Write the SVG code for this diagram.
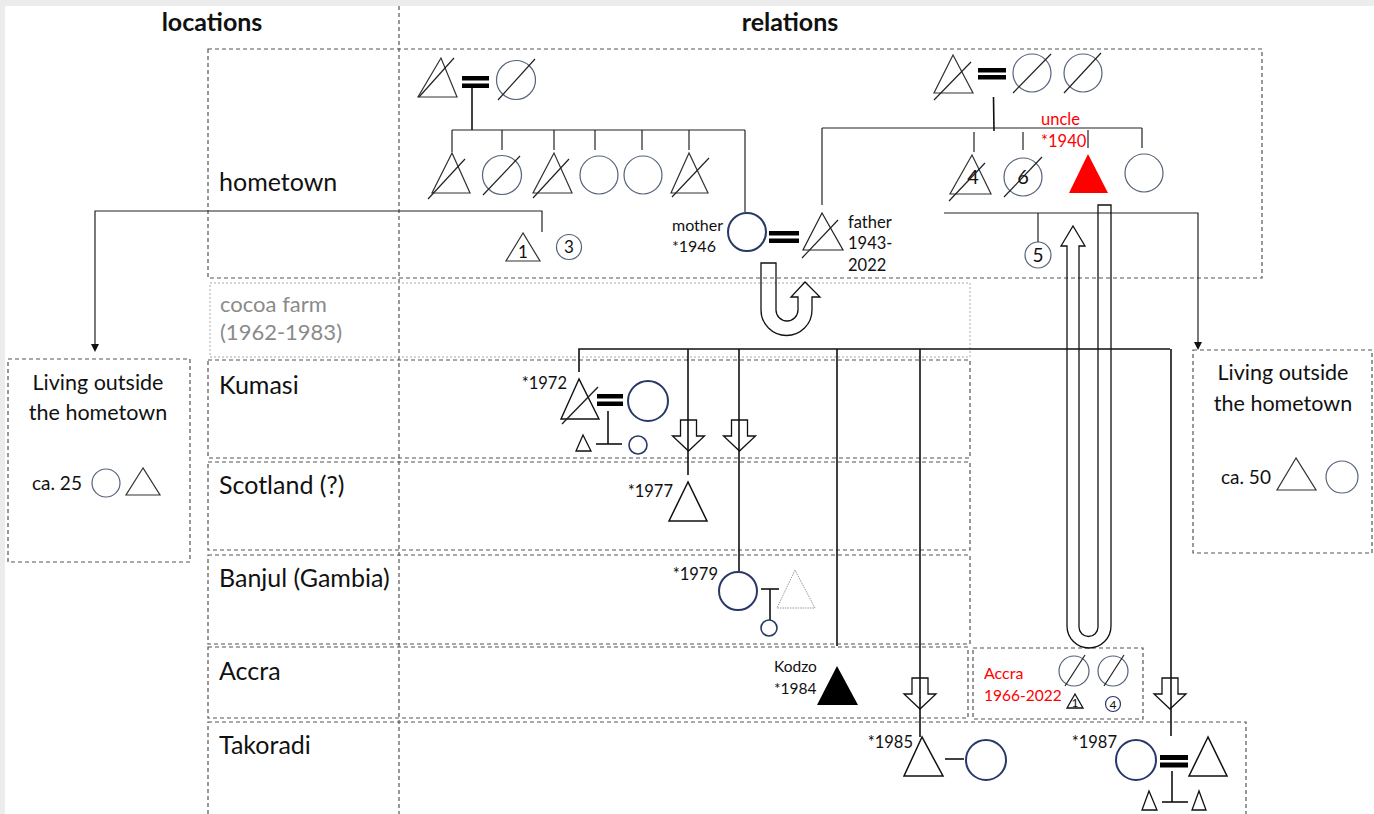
<svg xmlns="http://www.w3.org/2000/svg" width="1374" height="814" viewBox="0 0 1374 814">
<style>
.box{fill:none;stroke:#555;stroke-width:1.2;stroke-dasharray:4 3}
.boxl{fill:none;stroke:#aaa;stroke-width:1;stroke-dasharray:2 2}
.t{font-family:Lato,"Open Sans","Liberation Sans",sans-serif;fill:#111}
.lbl{font-size:25px}
.hd{font-size:25px;font-weight:bold}
.sm{font-size:16px}
.xs{font-size:16.5px}
.red{fill:#ff0000}
.ln{stroke:#222;stroke-width:1.2;fill:none}
.lnb{stroke:#111;stroke-width:1.6;fill:none}
.tri{fill:none;stroke:#333;stroke-width:1.2}
.trib{fill:none;stroke:#111;stroke-width:1.6}
.cir{fill:none;stroke:#56627a;stroke-width:1.2}
.cirN{fill:none;stroke:#2a3868;stroke-width:2}
.sl{stroke:#222;stroke-width:1.2}
.eq{fill:#000}
.blk{fill:none;stroke:#111;stroke-width:1.3}
</style>
<defs>
<path id="darr" d="M-8,0 L8,0 L8,16 L16,16 L0,31 L-16,16 L-8,16 Z"/>
</defs>
<rect x="0" y="0" width="1374" height="814" fill="#fff"/>
<rect x="0" y="0" width="1374" height="6" fill="#ececec"/>
<rect x="0" y="0" width="5" height="814" fill="#ececec"/>

<g id="frame">
<line x1="399" y1="6" x2="399" y2="814" class="box"/>
<text x="212" y="31" class="t hd" text-anchor="middle">locations</text>
<text x="790" y="31" class="t hd" text-anchor="middle">relations</text>
</g>

<g id="row-hometown">
<rect x="208" y="49" width="1054" height="229" class="box"/>
<text x="219" y="191" class="t lbl">hometown</text>
</g>
<g id="row-cocoa">
<rect x="210" y="283" width="760" height="74" class="boxl"/>
<text x="220" y="312" class="t" font-size="22" style="fill:#8a8a8a">cocoa farm</text>
<text x="220" y="340" class="t" font-size="22" style="fill:#8a8a8a">(1962-1983)</text>
</g>
<g id="row-kumasi">
<rect x="208" y="360" width="762" height="98" class="box"/>
<text x="219" y="394" class="t lbl">Kumasi</text>
</g>
<g id="row-scotland">
<rect x="208" y="462" width="762" height="88" class="box"/>
<text x="219" y="494" class="t lbl">Scotland (?)</text>
</g>
<g id="row-banjul">
<rect x="208" y="555" width="762" height="89" class="box"/>
<text x="219" y="587" class="t lbl">Banjul (Gambia)</text>
</g>
<g id="row-accra">
<rect x="208" y="647" width="760" height="71" class="box"/>
<text x="219" y="680" class="t lbl">Accra</text>
</g>
<g id="row-takoradi">
<rect x="208" y="722" width="1038" height="100" class="box"/>
<text x="219" y="754" class="t lbl">Takoradi</text>
</g>

<g id="outside-left">
<rect x="8" y="359" width="182" height="203" class="box"/>
<text x="98" y="390" class="t" font-size="21.5" text-anchor="middle">Living outside</text>
<text x="98" y="420" class="t" font-size="21.5" text-anchor="middle">the hometown</text>
<text x="32" y="490" class="t" font-size="19">ca. 25</text>
<circle cx="106" cy="483" r="14" class="cir"/>
<polygon points="143,468 126,495 160,495" class="tri"/>
</g>
<g id="outside-right">
<rect x="1193" y="350" width="179" height="203" class="box"/>
<text x="1283" y="380" class="t" font-size="21.5" text-anchor="middle">Living outside</text>
<text x="1283" y="411" class="t" font-size="21.5" text-anchor="middle">the hometown</text>
<text x="1221" y="484" class="t" font-size="19">ca. 50</text>
<polygon points="1296,458 1277,490 1316,490" class="tri"/>
<circle cx="1342" cy="477" r="16" class="cir"/>
</g>

<g id="accra-red">
<rect x="973" y="648" width="170" height="71" class="box"/>
<text x="984" y="679" class="t red" font-size="16">Accra</text>
<text x="984" y="701" class="t red" font-size="15.5">1966-2022</text>
<circle cx="1074" cy="671" r="15" class="cir"/>
<line x1="1065" y1="686" x2="1085" y2="655" class="sl"/>
<circle cx="1113" cy="671" r="15" class="cir"/>
<line x1="1104" y1="686" x2="1124" y2="655" class="sl"/>
<polygon points="1075,694 1067,708 1083,708" class="trib" style="stroke-width:1.3"/>
<text x="1075" y="707" class="t" font-size="12" text-anchor="middle">1</text>
<circle cx="1113" cy="704" r="7.5" class="cir" style="stroke:#2a3868"/>
<text x="1113" y="708.5" class="t" font-size="12" text-anchor="middle">4</text>
</g>

<g id="m-grandfather">
<polygon points="441,58 418,97 457,97" class="tri"/>
<line x1="419" y1="97" x2="454" y2="58" class="sl"/>
</g>
<g id="m-grandparents-eq"><rect x="462" y="76" width="27" height="4.5" class="eq"/><rect x="462" y="83.5" width="27" height="4.5" class="eq"/></g>
<g id="m-grandmother">
<circle cx="516" cy="80" r="19.5" class="cir"/>
<line x1="498" y1="100" x2="535" y2="59" class="sl"/>
</g>
<g id="m-sib1"><polygon points="452,153 432,193 470,193" class="tri"/><line x1="428" y1="199" x2="465" y2="159" class="sl"/></g>
<g id="m-sib2"><circle cx="502" cy="175" r="19.5" class="cir"/><line x1="483" y1="195" x2="520" y2="156" class="sl"/></g>
<g id="m-sib3"><polygon points="554,153 533,193 572,193" class="tri"/><line x1="533" y1="198" x2="569" y2="159" class="sl"/></g>
<g id="m-sib4"><circle cx="599" cy="175" r="19" class="cir"/></g>
<g id="m-sib5"><circle cx="643" cy="175" r="19" class="cir"/></g>
<g id="m-sib6"><polygon points="689,153 671,193 708,193" class="tri"/><line x1="672" y1="197" x2="709" y2="158" class="sl"/></g>
<g id="m-tri1"><polygon points="523,233 506,261 540,261" class="tri"/><text x="523" y="258" class="t" font-size="17" text-anchor="middle">1</text></g>
<g id="m-cir3"><circle cx="569" cy="247" r="12.5" class="cir"/><text x="569" y="253" class="t" font-size="17" text-anchor="middle">3</text></g>

<g id="mother">
<text x="672" y="231" class="t sm">mother</text>
<text x="672" y="252" class="t sm">*1946</text>
<circle cx="747" cy="232" r="19" class="cirN"/>
</g>
<g id="parents-eq"><rect x="769" y="231" width="30" height="4.5" class="eq"/><rect x="769" y="238.5" width="30" height="4.5" class="eq"/></g>
<g id="father">
<polygon points="822,213 803,250 843,250" class="tri" style="stroke:#222"/>
<line x1="802" y1="258" x2="838" y2="220" class="sl"/>
<text x="848" y="228" class="t xs">father</text>
<text x="848" y="249" class="t xs">1943-</text>
<text x="848" y="271" class="t xs">2022</text>
</g>

<g id="p-grandfather"><polygon points="953,55 934,93 973,93" class="tri"/><line x1="934" y1="100" x2="971" y2="62" class="sl"/></g>
<g id="p-grandparents-eq"><rect x="978" y="68" width="28" height="4.5" class="eq"/><rect x="978" y="75" width="28" height="4.5" class="eq"/></g>
<g id="p-grandmother1"><circle cx="1032" cy="73" r="19" class="cir"/><line x1="1013" y1="93" x2="1051" y2="54" class="sl"/></g>
<g id="p-grandmother2"><circle cx="1083" cy="73" r="19" class="cir"/><line x1="1064" y1="93" x2="1101" y2="53" class="sl"/></g>
<g id="p-sib4"><polygon points="972,155 950,194 991,194" class="tri"/><text x="973" y="184" class="t" font-size="20" text-anchor="middle">4</text><line x1="949" y1="201" x2="985" y2="163" class="sl"/></g>
<g id="p-sib6"><circle cx="1023" cy="177" r="19" class="cir"/><text x="1023" y="184" class="t" font-size="20" text-anchor="middle">6</text><line x1="1004" y1="197" x2="1042" y2="157" class="sl"/></g>
<g id="uncle">
<text x="1041" y="125" class="t red" font-size="16.5">uncle</text>
<text x="1041" y="147" class="t red" font-size="16.5">*1940</text>
<polygon points="1088,154 1069,193 1108,193" fill="#ff0000"/>
</g>
<g id="p-sib-f"><circle cx="1144" cy="173" r="19" class="cir"/></g>
<g id="p-cir5"><circle cx="1038" cy="255" r="13" class="cir"/><text x="1038" y="262" class="t" font-size="19" text-anchor="middle">5</text></g>

<g id="child-1972">
<text x="567" y="389" class="t xs" text-anchor="end">*1972</text>
<polygon points="579,379 561,419 599,419" class="trib" style="stroke-width:1.4"/>
<line x1="562" y1="424" x2="598" y2="387" class="sl" style="stroke-width:1.4"/>
<rect x="597" y="394" width="26" height="4.5" class="eq"/><rect x="597" y="401.5" width="26" height="4.5" class="eq"/>
<circle cx="648" cy="401" r="20" class="cirN"/>
<line x1="608" y1="411" x2="608" y2="444" class="lnb"/>
<line x1="596" y1="444" x2="622" y2="444" class="lnb"/>
<polygon points="583,435 576,451 591,451" class="trib" style="stroke-width:1.3"/>
<circle cx="638" cy="445" r="9" class="cirN" style="stroke-width:1.6"/>
</g>
<g id="child-1977">
<text x="673" y="497" class="t xs" text-anchor="end">*1977</text>
<polygon points="688,482 669,521 707,521" class="trib" style="stroke-width:1.5"/>
</g>
<g id="child-1979">
<text x="718" y="580" class="t xs" text-anchor="end">*1979</text>
<circle cx="738" cy="591" r="19" class="cirN"/>
<line x1="761" y1="589" x2="779" y2="589" class="lnb"/>
<line x1="770" y1="589" x2="770" y2="620" class="lnb"/>
<polygon points="795,570 777,608 815,608" fill="none" stroke="#999" stroke-width="1" stroke-dasharray="1.5 1"/>
<circle cx="769" cy="628" r="8" class="cirN" style="stroke-width:1.6"/>
</g>
<g id="child-1984">
<text x="774" y="672" class="t" font-size="15.5">Kodzo</text>
<text x="774" y="694" class="t" font-size="15.5">*1984</text>
<polygon points="837,666 817,705 858,705" fill="#000"/>
</g>
<g id="child-1985">
<text x="913" y="748" class="t xs" text-anchor="end">*1985</text>
<polygon points="922,737 904,776 943,776" class="trib" style="stroke-width:1.5"/>
<line x1="945" y1="759" x2="964" y2="759" class="lnb"/>
<circle cx="986" cy="760" r="20" class="cirN"/>
</g>
<g id="child-1987">
<text x="1117" y="748" class="t xs" text-anchor="end">*1987</text>
<circle cx="1136" cy="760" r="20" class="cirN"/>
<rect x="1160" y="755" width="28" height="5" class="eq"/><rect x="1160" y="762.5" width="28" height="5" class="eq"/>
<polygon points="1208,737 1189,776 1227,776" class="trib" style="stroke-width:1.5"/>
<line x1="1172" y1="771" x2="1172" y2="802" class="lnb"/>
<line x1="1162" y1="802" x2="1188" y2="802" class="lnb"/>
<polygon points="1149,791 1142,810 1157,810" class="trib" style="stroke-width:1.3"/>
<polygon points="1199,791 1192,810 1206,810" class="trib" style="stroke-width:1.3"/>
</g>

<g id="connectors">
<line x1="472" y1="88" x2="472" y2="130" class="lnb"/>
<line x1="452" y1="130" x2="745" y2="130" class="ln"/>
<line x1="452" y1="130" x2="452" y2="152" class="ln"/>
<line x1="502" y1="130" x2="502" y2="150" class="ln"/>
<line x1="554" y1="130" x2="554" y2="150" class="ln"/>
<line x1="595" y1="130" x2="595" y2="150" class="ln"/>
<line x1="642" y1="130" x2="642" y2="150" class="ln"/>
<line x1="689" y1="130" x2="689" y2="150" class="ln"/>
<line x1="745" y1="130" x2="745" y2="212" class="ln"/>
<line x1="993.5" y1="97" x2="994" y2="131" class="lnb"/>
<line x1="822" y1="128" x2="1142" y2="128" class="ln"/>
<line x1="822" y1="128" x2="822" y2="205" class="ln"/>
<line x1="974" y1="132" x2="974" y2="152" class="ln"/>
<line x1="1023" y1="132" x2="1023" y2="150" class="ln"/>
<line x1="1088" y1="130" x2="1088" y2="148" class="ln"/>
<line x1="1142" y1="128" x2="1142" y2="148" class="ln"/>
<polyline points="542,232 542,211 95,211 95,345" class="ln"/>
<polygon points="91,344 99,344 95,352" fill="#111"/>
<polyline points="944,213 1198,213 1198,343" class="ln"/>
<line x1="1038" y1="213" x2="1038" y2="242" class="ln"/>
<polygon points="1194,342 1202,342 1198,350" fill="#111"/>
<polyline points="579,372 579,349 1170,349" class="lnb"/>
<line x1="688" y1="349" x2="688" y2="475" class="lnb"/>
<line x1="739" y1="349" x2="739" y2="571" class="lnb"/>
<line x1="837" y1="349" x2="837" y2="646" class="lnb"/>
<line x1="920" y1="349" x2="920" y2="737" class="lnb"/>
<line x1="1171" y1="349" x2="1171" y2="736" class="lnb"/>
<use href="#darr" x="688.5" y="420" class="blk"/>
<use href="#darr" x="739.5" y="420" class="blk"/>
<use href="#darr" x="920" y="678" class="blk"/>
<use href="#darr" x="1170" y="678" class="blk"/>
<path d="M761,263 L776,263 L776,310 A11,11 0 0 0 798,310 L798,297 L791,297 L805,282 L820,297 L812,297 L812,310 A25.5,25.5 0 0 1 761,310 Z" class="blk"/>
<path d="M1067,246 L1061,246 L1073,226 L1085,246 L1079,246 L1079,627 A9.5,9.5 0 0 0 1098,627 L1098,205 L1111,205 L1111,626 A22,22 0 0 1 1067,626 Z" class="blk"/>
</g>
</svg>
